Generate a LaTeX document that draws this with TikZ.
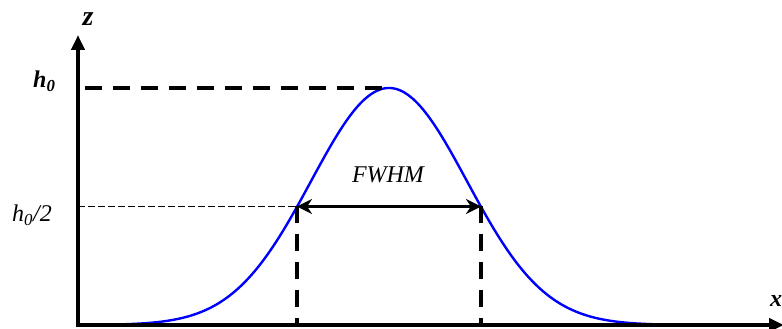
\documentclass[tikz,border=0pt]{standalone}
\usepackage{fontspec}
\setmainfont{Liberation Serif}
\usetikzlibrary{arrows.meta}

\begin{document}
\begin{tikzpicture}[
  x=1pt, y=1pt,
  >=Stealth,
  axis/.style={line width=4pt, -{Triangle[length=15pt, width=13pt]}},
  guide/.style={line width=4pt, dash pattern=on 17pt off 11pt},
  thinguide/.style={line width=0.9pt, dash pattern=on 6.5pt off 3.5pt},
  lbl/.style={font=\fontsize{24}{26}\selectfont\itshape, inner sep=0pt},
  boldlbl/.style={font=\fontsize{24}{26}\selectfont\bfseries\itshape, inner sep=0pt}
]
  \useasboundingbox (-78,-4) rectangle (704,325);

  \coordinate (O) at (0,0);
  \coordinate (ztip) at (0,290);
  \coordinate (xtip) at (706,0);
  \coordinate (peak) at (311,237);
  \coordinate (top) at (7,237);
  \coordinate (halfaxis) at (0,118.5);
  \coordinate (halfL) at (219,118.5);
  \coordinate (halfR) at (403,118.5);
  \coordinate (footL) at (219,0);
  \coordinate (footR) at (403,0);

  % gaussian profile
  \draw[blue, line width=2.4pt, line cap=round]
    plot[domain=0:622, samples=120, smooth] (\x, {237*exp(-0.5*((\x-311)/78)^2)});

  \draw[guide] (top) -- (peak);
  \draw[thinguide] (halfaxis) -- (halfL);
  \draw[guide] (halfL) -- (footL);
  \draw[guide] (halfR) -- (footR);
  \draw[<->, line width=3.5pt, >={Stealth[length=15pt, width=15pt]}] (halfL) -- (halfR);

  \draw[axis] (O) -- (ztip);
  \draw[axis] ([xshift=-2pt]O) -- (xtip);

  \node[boldlbl, font=\fontsize{28}{30}\selectfont\bfseries\itshape] (zlab) at (10,306) {z};
  \node[boldlbl] (xlab) at (698,24) {x};
  \node[boldlbl, anchor=base west] (h0lab) at (-45,237) {h\textsubscript{0}};
  \node[lbl, anchor=base west] (halflab) at (-66,103) {h\textsubscript{0}/2};
  \node[lbl] (fwhm) at (310,150) {FWHM};
\end{tikzpicture}
\end{document}
